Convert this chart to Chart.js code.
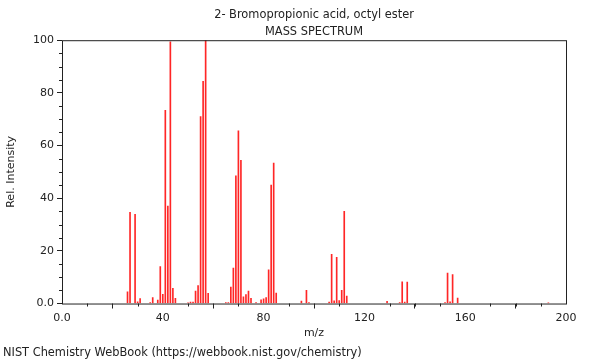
<!DOCTYPE html>
<html>
<head>
<meta charset="utf-8">
<script src="https://cdn.jsdelivr.net/npm/chart.js@4/dist/chart.umd.min.js"></script>
<style>
  html, body { margin: 0; padding: 0; background: #fff; }
  #wrap { width: 600px; height: 360px; }
</style>
</head>
<body>
<div id="wrap"><canvas id="ms"></canvas></div>
<script>
// peaks
const mz = [26, 27, 29, 30, 31, 35, 36, 38, 39, 40, 41, 42, 43, 44, 45,
  50, 51, 52, 53, 54, 55, 56, 57, 58,
  65, 66, 67, 68, 69, 70, 71, 72, 73, 74, 75, 77, 79, 80, 81, 82, 83, 84, 85,
  95, 97, 98, 106, 107, 108, 109, 110, 111, 112, 113,
  129, 134, 135, 136, 137, 152, 153, 154, 155, 157, 193];
const intensity = [4.4, 34.6, 33.9, 0.6, 1.9, 0.4, 2.3, 1.3, 14, 3.5, 73.4, 37, 99.4, 5.8, 2,
  0.3, 0.5, 0.5, 4.7, 6.8, 71, 84.4, 100, 3.9,
  0.4, 0.4, 6.2, 13.5, 48.5, 65.6, 54.4, 2.5, 3.4, 4.7, 2, 0.4, 1.4, 1.8, 2.3, 12.8, 45, 53.3, 4,
  0.9, 5, 0.4, 0.5, 18.7, 1, 17.5, 1.1, 5, 35, 2.8,
  0.8, 0.4, 8.2, 0.5, 8.1, 0.4, 11.6, 0.6, 11, 2.1, 0.3];

const xTicks = [0, 40, 80, 120, 160, 200];
const yTicks = [0, 20, 40, 60, 80, 100];
const xMinor = [10, 20, 30, 50, 60, 70, 90, 100, 110, 130, 140, 150, 170, 180, 190];
const yMinor = [5, 10, 15, 25, 30, 35, 45, 50, 55, 65, 70, 75, 85, 90, 95];

const titleLines = ['2- Bromopropionic acid, octyl ester', 'MASS SPECTRUM'];
const footer = 'NIST Chemistry WebBook (https://webbook.nist.gov/chemistry)';

const ink = '#222';
const font = { family: 'DejaVu Sans', size: 11 };
const textFont = { family: 'DejaVu Sans', size: 11.4 };

const tickLabel = (v) => (v === 0 ? '0.0' : String(v));

// box around the plot and the small ticks
const frame = {
  id: 'frame',
  afterDraw(chart) {
    const { ctx, chartArea: a, scales: { x, y } } = chart;
    ctx.save();
    ctx.strokeStyle = ink;
    ctx.lineWidth = 1;
    ctx.strokeRect(a.left + 0.5, a.top + 0.5, a.right - a.left, a.bottom - a.top);
    ctx.beginPath();
    xMinor.forEach((v) => {
      const px = Math.round(x.getPixelForValue(v)) + 0.5;
      ctx.moveTo(px, a.bottom);
      ctx.lineTo(px, a.bottom + 3);
    });
    yMinor.forEach((v) => {
      const py = Math.round(y.getPixelForValue(v)) + 0.5;
      ctx.moveTo(a.left, py);
      ctx.lineTo(a.left - 3, py);
    });
    ctx.stroke();
    ctx.restore();
  },
};

Chart.defaults.font.family = font.family;
Chart.defaults.color = ink;

new Chart(document.getElementById('ms'), {
  type: 'bar',
  data: {
    datasets: [
      {
        data: mz.map((m, i) => ({ x: m, y: intensity[i] })),
        backgroundColor: 'rgba(255, 0, 0, 0.85)',
        barThickness: 1,
        grouped: false,
      },
    ],
  },
  options: {
    responsive: true,
    maintainAspectRatio: false,
    animation: false,
    layout: { padding: { left: 3, right: 34, top: 0, bottom: 0 } },
    scales: {
      x: {
        type: 'linear',
        min: 0,
        max: 200,
        offset: false,
        afterFit: (s) => { s.height = 42.8; },
        afterBuildTicks: (s) => { s.ticks = xTicks.map((v) => ({ value: v })); },
        ticks: { font, color: ink, padding: 3, maxRotation: 0, callback: tickLabel },
        grid: { drawOnChartArea: false, tickLength: 5, tickColor: ink },
        border: { display: false },
        title: { display: true, text: 'm/z', font, color: ink, padding: { top: 2, bottom: 7 } },
      },
      y: {
        min: 0,
        max: 100,
        afterFit: (s) => { s.width = 59; },
        afterBuildTicks: (s) => { s.ticks = yTicks.map((v) => ({ value: v })); },
        ticks: { font, color: ink, padding: 3, callback: tickLabel },
        grid: { drawOnChartArea: false, tickLength: 5, tickColor: ink },
        border: { display: false },
        title: { display: true, text: 'Rel. Intensity', font, color: ink, padding: { top: 2, bottom: 0 } },
      },
    },
    plugins: {
      legend: { display: false },
      tooltip: { enabled: false },
      title: {
        display: true,
        text: titleLines,
        fullSize: false,
        font: { ...textFont, weight: 'normal', lineHeight: 1.5 },
        color: ink,
        padding: { top: 6, bottom: 0 },
      },
      subtitle: {
        display: true,
        text: footer,
        position: 'bottom',
        align: 'start',
        font: { ...textFont, lineHeight: 1.2 },
        color: ink,
        padding: { top: 0, bottom: 0 },
      },
    },
  },
  plugins: [frame],
});
</script>
</body>
</html>
